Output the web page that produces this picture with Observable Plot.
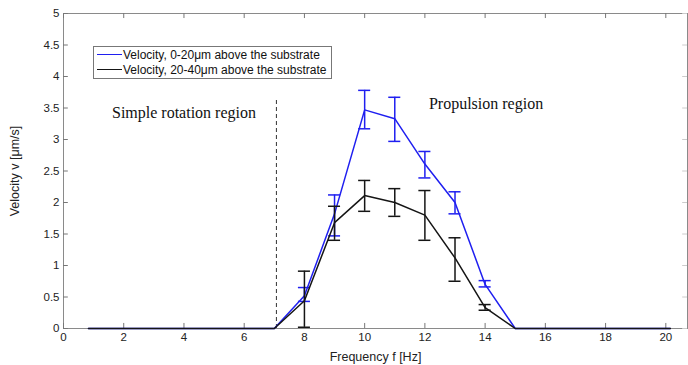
<!DOCTYPE html>
<html>
<head>
<meta charset="utf-8">
<script src="https://cdn.jsdelivr.net/npm/d3@7"></script>
<script src="https://cdn.jsdelivr.net/npm/@observablehq/plot@0.6"></script>
<style>
  html, body { margin: 0; padding: 0; background: #fff; }
  #wrap { position: relative; width: 688px; height: 365px; }
  #legend { position: absolute; left: 93px; top: 46px; width: 239px; height: 33px;
    border: 1px solid #777; background: #fff; font-family: "Liberation Sans", Arial, sans-serif;
    font-size: 12px; color: #111; box-sizing: border-box; }
  #legend .row { position: absolute; left: 3px; height: 15px; line-height: 15px; white-space: nowrap; }
  #legend .sw { display: inline-block; width: 25px; height: 0; border-top: 1.5px solid; vertical-align: middle; margin-right: 1px; position: relative; top: -1px; }
</style>
</head>
<body>
<div id="wrap"></div>
<script>
// ---- data ----
const freq  = [0.83, 7, 8, 9, 10, 11, 12, 13, 14, 15, 20.15];
const blueV = [0, 0, 0.52, 1.82, 3.47, 3.33, 2.61, 2.0, 0.70, 0, 0];
const blackV = [0, 0, 0.44, 1.68, 2.11, 2.0, 1.80, 1.12, 0.33, 0, 0];

const errFreq   = [8, 9, 10, 11, 12, 13, 14];
const blueLow   = [0.43, 1.47, 3.17, 2.97, 2.39, 1.82, 0.66];
const blueHigh  = [0.65, 2.12, 3.78, 3.67, 2.81, 2.17, 0.76];
const blackLow  = [0.02, 1.40, 1.86, 1.78, 1.40, 0.75, 0.29];
const blackHigh = [0.91, 1.94, 2.35, 2.22, 2.19, 1.44, 0.38];

const xTicks = [0, 2, 4, 6, 8, 10, 12, 14, 16, 18, 20];
const yTicks = [0, 0.5, 1, 1.5, 2, 2.5, 3, 3.5, 4, 4.5, 5];
const seriesNames = ["Velocity, 0-20μm above the substrate", "Velocity, 20-40μm above the substrate"];
const regionLabels = ["Simple rotation region", "Propulsion region"];
const boundaryFreq = 7.07;

// ---- build tables ----
const blueLine = freq.map((f, i) => ({f, v: blueV[i]}));
const blackLine = freq.map((f, i) => ({f, v: blackV[i]}));
const blueErr = errFreq.map((f, i) => ({f, lo: blueLow[i], hi: blueHigh[i]}));
const blackErr = errFreq.map((f, i) => ({f, lo: blackLow[i], hi: blackHigh[i]}));

const BLUE = "#1f1ff0", BLACK = "#151515";
const XMAX = 20.72;
const cap = 0.2;       // half cap width in Hz
const tx = 0.16, ty = 0.08; // inward tick lengths

function errMarks(data, color) {
  return [
    Plot.ruleX(data, {x: "f", y1: "lo", y2: "hi", stroke: color, strokeWidth: 1.5}),
    Plot.ruleY(data, {y: "lo", x1: d => d.f - cap, x2: d => d.f + cap, stroke: color, strokeWidth: 1.5}),
    Plot.ruleY(data, {y: "hi", x1: d => d.f - cap, x2: d => d.f + cap, stroke: color, strokeWidth: 1.5})
  ];
}

const chart = Plot.plot({
  width: 688, height: 365,
  marginLeft: 63, marginRight: 1, marginTop: 13, marginBottom: 37,
  x: {domain: [0, XMAX]},
  y: {domain: [0, 5]},
  style: {fontFamily: "'Liberation Sans', Arial, sans-serif", fontSize: "11.5px", color: "#222", background: "#fff"},
  marks: [
    Plot.frame({stroke: "#8a8a8a", strokeWidth: 1}),
    // inward ticks
    Plot.ruleX(xTicks, {x: d => d, y1: 0, y2: ty, stroke: "#777"}),
    Plot.ruleX(xTicks, {x: d => d, y1: 5 - ty, y2: 5, stroke: "#777"}),
    Plot.ruleY(yTicks, {y: d => d, x1: 0, x2: tx, stroke: "#777"}),
    Plot.ruleY(yTicks, {y: d => d, x1: XMAX - tx, x2: XMAX, stroke: "#ccc"}),
    Plot.axisX({ticks: xTicks, tickSize: 0, tickPadding: 4, tickFormat: d => d, label: null, fontSize: 11.5}),
    Plot.axisX({ticks: [], label: "Frequency f [Hz]", labelAnchor: "center", labelArrow: "none", labelOffset: 32, fontSize: 12.5}),
    Plot.axisY({ticks: yTicks, tickSize: 0, tickPadding: 4, tickFormat: d => d, label: null, fontSize: 11.5}),
    Plot.axisY({ticks: [], label: "Velocity v [μm/s]", labelAnchor: "center", labelArrow: "none", labelOffset: 53, fontSize: 12.5}),
    // boundary
    Plot.ruleX([boundaryFreq], {x: d => d, y1: 0, y2: 3.62, stroke: "#333", strokeDasharray: "4,3", strokeWidth: 1}),
    // region labels
    Plot.text([regionLabels[0]], {x: 4.0, y: 3.43, text: d => d, fontFamily: "'Liberation Serif', 'Times New Roman', serif", fontSize: 16, fill: "#111"}),
    Plot.text([regionLabels[1]], {x: 14.03, y: 3.57, text: d => d, fontFamily: "'Liberation Serif', 'Times New Roman', serif", fontSize: 16, fill: "#111"}),
    // series
    Plot.line(blueLine, {x: "f", y: "v", stroke: BLUE, strokeWidth: 1.5}),
    ...errMarks(blueErr, BLUE),
    Plot.line(blackLine, {x: "f", y: "v", stroke: BLACK, strokeWidth: 1.5}),
    ...errMarks(blackErr, BLACK)
  ]
});

const wrap = document.getElementById("wrap");
wrap.appendChild(chart);

// legend
const lg = document.createElement("div");
lg.id = "legend";
[[BLUE, seriesNames[0]], [BLACK, seriesNames[1]]].forEach(([c, t], i) => {
  const row = document.createElement("div");
  row.className = "row";
  row.style.top = (i === 0 ? 1 : 16) + "px";
  const sw = document.createElement("span");
  sw.className = "sw";
  sw.style.borderColor = c;
  row.appendChild(sw);
  row.appendChild(document.createTextNode(t));
  lg.appendChild(row);
});
wrap.appendChild(lg);
</script>
</body>
</html>
